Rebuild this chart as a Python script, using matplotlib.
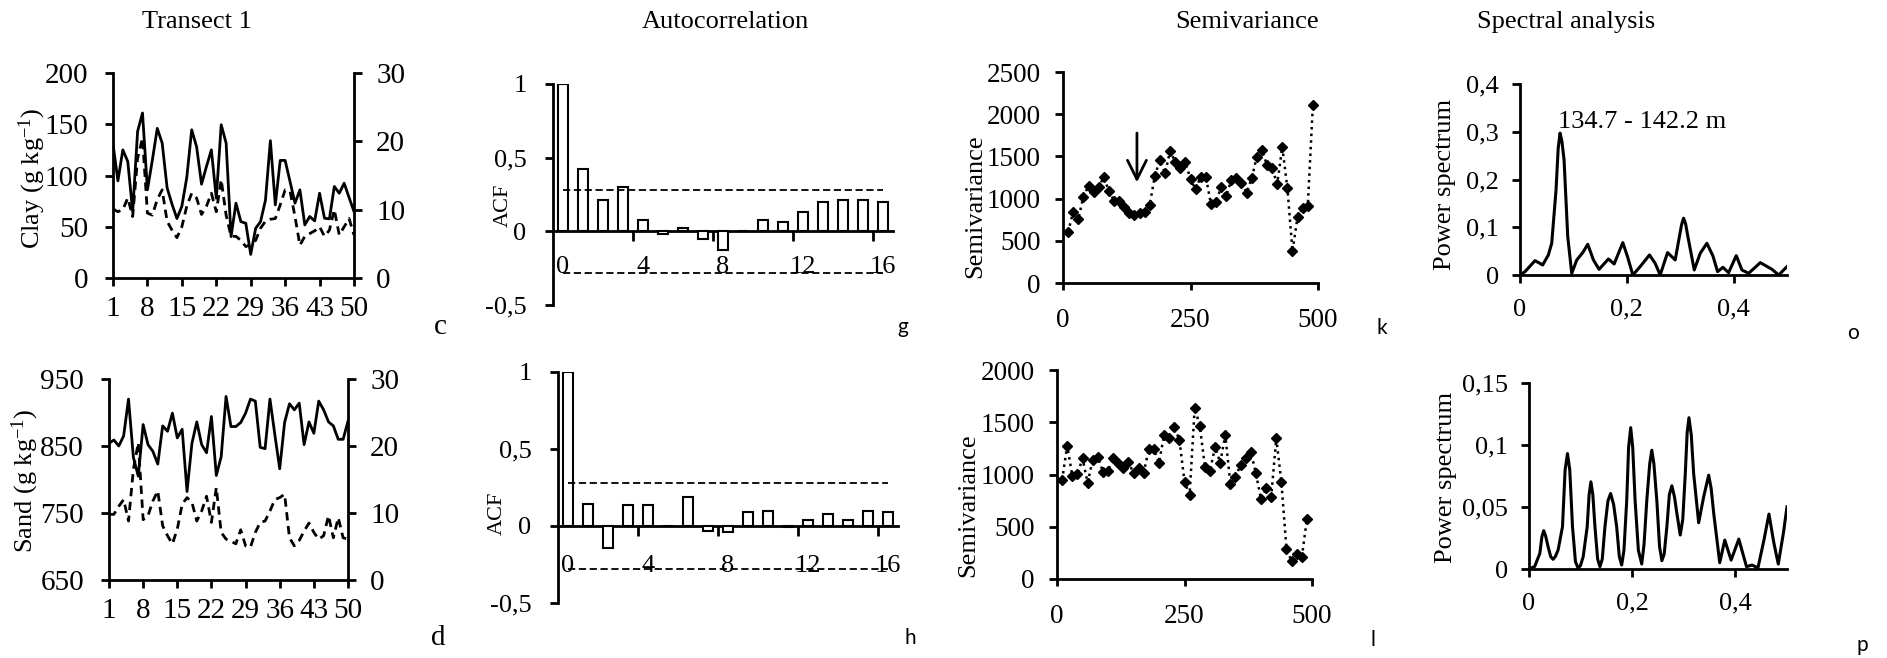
"""Transect 1: clay/sand series, ACF, semivariance and spectral panels."""

import matplotlib

matplotlib.use("Agg")
import matplotlib.pyplot as plt
import numpy as np

plt.rcParams["font.family"] = ["Liberation Serif", "DejaVu Serif"]
plt.rcParams["mathtext.fontset"] = "custom"
plt.rcParams["mathtext.rm"] = "Liberation Serif"
plt.rcParams["mathtext.it"] = "Liberation Serif:italic"

W, H = 1887, 658

# ---- data ----
sample = np.arange(1, 51)
sample_ticks = [1, 8, 15, 22, 29, 36, 43, 50]

clay = [130.6, 94.8, 125, 113.7, 64.8, 143, 161, 86, 115, 146,
        131.6, 88, 72, 58, 70, 98, 144.6, 128, 91.5, 108.8,
        125, 77.8, 149.5, 131.6, 40.4, 73, 55, 53.4, 23, 48.5,
        55, 76, 134, 71.3, 114.7, 114.7, 94, 73, 86, 51.8,
        60, 55.7, 82.7, 58.3, 57.7, 89.3, 82.7, 92.5, 78.5, 64.8]
clay_dash = [10.1, 9.7, 10.0, 11.7, 9.0, 17.5, 20.5, 9.5, 9.2, 11.5,
             12.9, 8.3, 7.0, 5.9, 7.5, 10.5, 12.4, 11.7, 9.3, 10.5,
             12.4, 9.7, 14.4, 9.2, 6.1, 6.1, 5.5, 4.6, 4.9, 5.5,
             7.3, 8.3, 8.6, 8.7, 10.7, 12.9, 12.7, 9.0, 4.8, 6.1,
             6.5, 6.9, 7.5, 6.1, 7.0, 10.0, 6.3, 7.5, 8.7, 6.3]
sand = [854, 859, 850, 865, 920, 833, 805, 882, 852, 842,
        823, 880, 872, 899, 862, 875, 782, 854, 886, 852,
        840, 894, 806, 834, 924, 879, 879, 885, 899, 920,
        917, 848, 846, 920, 867, 816, 885, 913, 904, 914,
        852, 886, 869, 917, 904, 886, 880, 860, 860, 887]
sand_dash = [9.8, 9.8, 11.0, 12.0, 8.8, 16.5, 20.5, 9.0, 9.6, 11.8,
             13.3, 8.1, 6.6, 5.4, 7.6, 11.3, 12.3, 11.6, 8.8, 10.3,
             12.5, 8.6, 13.8, 7.1, 6.1, 5.8, 5.4, 7.5, 5.1, 4.9,
             7.1, 8.6, 8.8, 10.3, 12.0, 12.3, 12.8, 6.3, 5.1, 5.9,
             7.3, 8.5, 7.1, 6.1, 6.6, 9.6, 6.3, 9.3, 6.3, 6.1]

lags = np.arange(17)
acf_clay = [1.0, 0.42, 0.215, 0.30, 0.075, -0.02, 0.02, -0.055, -0.125,
            0.003, 0.075, 0.065, 0.13, 0.20, 0.215, 0.21, 0.20]
acf_sand = [1.0, 0.14, -0.14, 0.135, 0.135, 0.002, 0.19, -0.03, -0.04,
            0.09, 0.10, -0.005, 0.037, 0.076, 0.04, 0.10, 0.09]
acf_conf = 0.28

semi_lag = np.arange(10, 500, 10)
semi_clay = [602, 846, 756, 1024, 1150, 1075, 1142, 1252, 1090, 976,
             976, 905, 827, 807, 827, 846, 925, 1268, 1457, 1300,
             1563, 1437, 1358, 1437, 1228, 1110, 1260, 1260, 937, 965,
             1134, 1031, 1220, 1240, 1181, 1071, 1240, 1496, 1575, 1398,
             1358, 1173, 1614, 1122, 374, 787, 886, 917, 2114]
semi_sand = [947, 1276, 986, 1002, 1155, 922, 1139, 1171, 1027, 1033,
             1155, 1107, 1059, 1123, 1011, 1059, 1018, 1241, 1241, 1113,
             1378, 1346, 1458, 1330, 931, 804, 1640, 1464, 1075, 1033,
             1266, 1113, 1378, 906, 979, 1091, 1155, 1218, 1011, 762,
             868, 788, 1346, 925, 284, 172, 236, 207, 574]
arrow_lag, arrow_from, arrow_to = 145, 1810, 1160

freq_clay = [0, 0.0094, 0.0281, 0.0425, 0.0531, 0.0594, 0.0675, 0.0715, 0.075,
             0.0785, 0.0825, 0.0894, 0.0969, 0.1063, 0.1175, 0.1269, 0.1375,
             0.1481, 0.1656, 0.1763, 0.1925, 0.2013, 0.2113, 0.225, 0.2425,
             0.2531, 0.2625, 0.2763, 0.2906, 0.3025, 0.3063, 0.31, 0.3144,
             0.3263, 0.3375, 0.35, 0.3613, 0.37, 0.38, 0.3906, 0.405, 0.4156,
             0.4281, 0.45, 0.4719, 0.4844, 0.5]
power_clay = [0, 0.007, 0.0301, 0.021, 0.042, 0.0664, 0.1783, 0.265, 0.2972,
              0.28, 0.2413, 0.0804, 0.0035, 0.0315, 0.0469, 0.0643, 0.0315,
              0.0119, 0.0336, 0.0231, 0.0678, 0.0385, 0.0, 0.0175, 0.042,
              0.0245, 0.0, 0.0469, 0.0315, 0.105, 0.1189, 0.108, 0.0804,
              0.0105, 0.0455, 0.0664, 0.0399, 0.007, 0.0161, 0.0049, 0.0406,
              0.0105, 0.0035, 0.0259, 0.0119, 0.0, 0.0175]
peak_label = "134.7 - 142.2 m"
peak_label_at = (0.072, 0.32)

freq_sand = [0, 0.011, 0.021, 0.025, 0.0285, 0.032, 0.037, 0.042, 0.0467,
             0.051, 0.0564, 0.0649, 0.070, 0.0746, 0.079, 0.0843, 0.090,
             0.0953, 0.100, 0.105, 0.1128, 0.1165, 0.12, 0.1237, 0.1278,
             0.133, 0.1375, 0.142, 0.1472, 0.153, 0.1582, 0.164, 0.1699,
             0.175, 0.1796, 0.184, 0.1894, 0.193, 0.1971, 0.201, 0.2056,
             0.212, 0.2185, 0.223, 0.2283, 0.234, 0.238, 0.242, 0.2477,
             0.253, 0.2575, 0.262, 0.2672, 0.272, 0.2769, 0.282, 0.2866,
             0.2931, 0.298, 0.3029, 0.3065, 0.31, 0.3145, 0.3191, 0.3288,
             0.3385, 0.3482, 0.353, 0.358, 0.3696, 0.3794, 0.3917, 0.4066,
             0.4215, 0.4326, 0.4436, 0.4553, 0.465, 0.4747, 0.4831, 0.4929, 0.5]
power_sand = [0, 0.002, 0.0126, 0.026, 0.0309, 0.027, 0.018, 0.010, 0.0078,
              0.010, 0.0153, 0.0341, 0.080, 0.0931, 0.080, 0.0341, 0.006,
              0.0005, 0.003, 0.0099, 0.0341, 0.060, 0.0703, 0.060, 0.0341,
              0.008, 0.0019, 0.008, 0.0341, 0.055, 0.0609, 0.052, 0.0341,
              0.010, 0.0032, 0.015, 0.0555, 0.098, 0.114, 0.098, 0.0555,
              0.015, 0.004, 0.020, 0.0555, 0.085, 0.0958, 0.085, 0.0555,
              0.018, 0.0067, 0.012, 0.0341, 0.060, 0.0671, 0.058, 0.0448,
              0.0274, 0.040, 0.077, 0.110, 0.122, 0.108, 0.077, 0.0373,
              0.0582, 0.0757, 0.065, 0.0448, 0.0051, 0.0233, 0.0072, 0.0241,
              0.0019, 0.0032, 0.0008, 0.0233, 0.0443, 0.0207, 0.004, 0.0287, 0.0502]


def box(l, t, r, b):
    return [l / W, 1 - b / H, (r - l) / W, (b - t) / H]


def ftext(x, y, s, **kw):
    fig.text(x / W, 1 - y / H, s, ha="center", va="center", **kw)


def style(ax, labelsize=18):
    for side in ("top", "right"):
        ax.spines[side].set_visible(False)
    for side in ("left", "bottom"):
        ax.spines[side].set_linewidth(2)
    ax.tick_params(direction="out", length=6, width=2, labelsize=labelsize)


fig = plt.figure(figsize=(W / 100, H / 100), dpi=100)

# ---- transect series ----
def transect(px, main, dash, ylim, yticks):
    ax = fig.add_axes(box(*px))
    ax.plot(sample, main, color="black", lw=2)
    ax.set_xlim(1, 50)
    ax.set_ylim(*ylim)
    ax.set_xticks(sample_ticks)
    ax.set_yticks(yticks)
    style(ax, 21)
    ax.tick_params(axis="y", pad=12)
    ax.tick_params(axis="x", pad=7)
    ax2 = ax.twinx()
    ax2.plot(sample, dash, color="black", lw=2, ls=(0, (3, 2)))
    ax2.set_ylim(0, 30)
    ax2.set_yticks([0, 10, 20, 30])
    for side in ("top", "left", "bottom"):
        ax2.spines[side].set_visible(False)
    ax2.spines["right"].set_linewidth(2)
    ax2.tick_params(direction="out", length=6, width=2, labelsize=21, pad=10)
    return ax


transect((113, 73, 354, 278), clay, clay_dash, (0, 200), [0, 50, 100, 150, 200])
transect((109, 379, 348, 580), sand, sand_dash, (650, 950), [650, 750, 850, 950])
ftext(32, 178, "Clay (g kg$^{\\mathrm{-1}}$)", rotation=90, fontsize=19)
ftext(25, 481, "Sand (g kg$^{\\mathrm{-1}}$)", rotation=90, fontsize=19)


# ---- autocorrelation ----
def acf_panel(px, values, pad):
    ax = fig.add_axes(box(*px))
    ax.bar(lags, values, width=0.5, facecolor="white", edgecolor="black",
           lw=1.5, zorder=3)
    for c in (acf_conf, -acf_conf):
        ax.plot([lags[0], lags[-1]], [c, c], color="black", lw=1.3,
                ls=(0, (4, 2)), zorder=4)
    ax.set_xlim(-0.5, 16.5)
    ax.set_ylim(-0.5, 1)
    style(ax, 19)
    ax.spines["bottom"].set_position(("data", 0))
    ax.set_xticks([0, 4, 8, 12, 16])
    ax.set_xticks([3.5, 7.5, 11.5, 15.5], minor=True)
    ax.tick_params(axis="x", which="major", length=0, pad=pad)
    ax.tick_params(axis="x", which="minor", direction="out", length=7, width=2)
    ax.set_yticks([-0.5, 0, 0.5, 1], ["-0,5", "0", "0,5", "1"])
    ax.tick_params(axis="y", pad=13)
    return ax


acf_panel((553, 84, 893, 305), acf_clay, 18)
acf_panel((558, 372, 898, 603), acf_sand, 21)
ftext(503, 205, "ACF", rotation=90, fontsize=16)
ftext(497, 513, "ACF", rotation=90, fontsize=16)


# ---- semivariance ----
def semi_panel(px, values, ymax, yticks):
    ax = fig.add_axes(box(*px))
    ax.plot(semi_lag, values, color="black", ls=":", lw=1.8, marker="D",
            ms=5.5, mfc="black", mec="black", clip_on=False)
    ax.set_xlim(0, 500)
    ax.set_ylim(0, ymax)
    ax.set_xticks([0, 250, 500])
    ax.set_yticks(yticks)
    style(ax, 19.5)
    ax.tick_params(axis="y", pad=10)
    ax.tick_params(axis="x", pad=13, length=5)
    return ax


ax = semi_panel((1063, 72, 1318, 283), semi_clay, 2500, [0, 500, 1000, 1500, 2000, 2500])
ax.annotate("", xy=(arrow_lag, arrow_to), xytext=(arrow_lag, arrow_from),
            arrowprops=dict(arrowstyle="->", lw=2, color="black", mutation_scale=34))
semi_panel((1057, 370, 1312, 579), semi_sand, 2000, [0, 500, 1000, 1500, 2000])
ftext(975, 206, "Semivariance", rotation=90, fontsize=19)
ftext(968, 505, "Semivariance", rotation=90, fontsize=19)


# ---- spectral analysis ----
def spec_panel(px, freq, power, ymax, yticks, ylabels):
    ax = fig.add_axes(box(*px))
    ax.plot(freq, power, color="black", lw=2.2, solid_joinstyle="round")
    ax.set_xlim(0, 0.5)
    ax.set_ylim(0, ymax)
    ax.set_xticks([0, 0.2, 0.4], ["0", "0,2", "0,4"])
    ax.set_yticks(yticks, ylabels)
    style(ax, 19)
    ax.tick_params(axis="y", pad=9)
    ax.tick_params(axis="x", pad=11)
    return ax


ax = spec_panel((1520, 84, 1787, 275), freq_clay, power_clay, 0.4,
                [0, 0.1, 0.2, 0.3, 0.4], ["0", "0,1", "0,2", "0,3", "0,4"])
ax.text(*peak_label_at, peak_label, fontsize=19, ha="left", va="center")
spec_panel((1529, 383, 1787, 569), freq_sand, power_sand, 0.15,
           [0, 0.05, 0.1, 0.15], ["0", "0,05", "0,1", "0,15"])
ftext(1445, 184, "Power spectrum", rotation=90, fontsize=19)
ftext(1446, 477, "Power spectrum", rotation=90, fontsize=19)

# ---- titles and panel letters ----
for x, t in [(197, "Transect 1"), (725, "Autocorrelation"),
             (1247, "Semivariance"), (1566, "Spectral analysis")]:
    ftext(x, 22, t, fontsize=19)

ftext(440, 327, "c", fontsize=21)
ftext(438, 638, "d", fontsize=21)
for x, y, s in [(903, 327, "g"), (1382, 328, "k"), (1853, 333, "o"),
                (910, 638, "h"), (1373, 640, "l"), (1862, 645, "p")]:
    ftext(x, y, s, fontsize=15, family="Lato")

fig.savefig("out.png", dpi=100)
